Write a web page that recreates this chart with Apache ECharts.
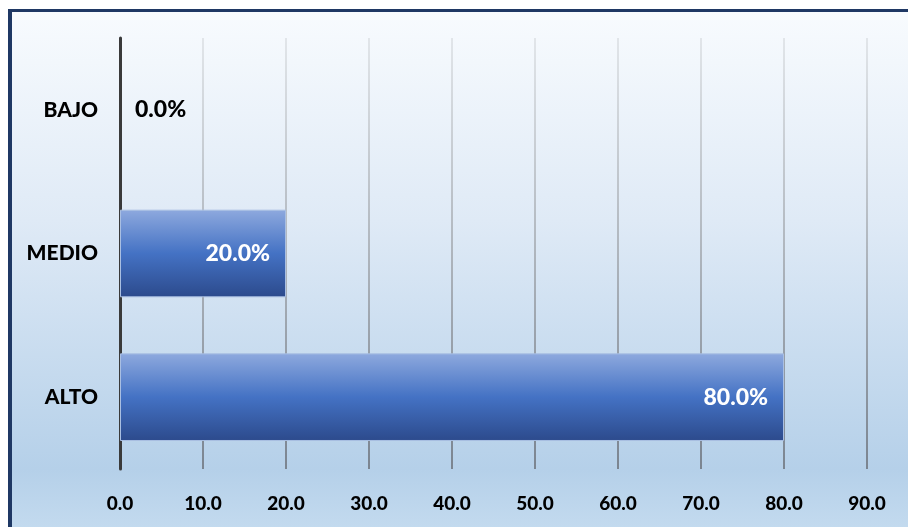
<!DOCTYPE html>
<html>
<head>
<meta charset="utf-8">
<script src="https://cdn.jsdelivr.net/npm/echarts@6/dist/echarts.min.js"></script>
<style>
  html, body { margin: 0; padding: 0; width: 908px; height: 527px; background: #fff; overflow: hidden; }
  #wrap {
    position: absolute; left: 8px; top: 9px; width: 904px; height: 520px;
    border-top: 3px solid #1f3864; border-left: 4px solid #1f3864;
    background: linear-gradient(to bottom, #f8fbfe 0%, #dfeaf6 40%, #b5d0e9 88%, #c4dbef 100%);
  }
  #chart { width: 904px; height: 520px; }
</style>
</head>
<body>
<div id="wrap"><div id="chart"></div></div>
<script>
const categories = ['ALTO', 'MEDIO', 'BAJO']
const values = [80.0, 20.0, 0.0]
const xTicks = { min: 0, max: 90, interval: 10 }

const chart = echarts.init(document.getElementById('chart'))
const font = 'Lato, "Open Sans", sans-serif'

const option = {
  animation: false,
  grid: { left: 108, right: 49, top: 26, bottom: 63 },
  xAxis: {
    type: 'value',
    min: xTicks.min,
    max: xTicks.max,
    interval: xTicks.interval,
    axisLine: { show: false },
    axisTick: { show: false },
    axisLabel: {
      margin: 25,
      color: '#000',
      fontWeight: 900,
      fontSize: 19,
      fontFamily: font,
      formatter: v => v.toFixed(1)
    },
    splitLine: {
      show: true,
      lineStyle: {
        width: 2,
        color: {
          type: 'linear', x: 0, y: 0, x2: 0, y2: 1,
          colorStops: [
            { offset: 0, color: '#e2e6ea' },
            { offset: 1, color: '#7a8490' }
          ]
        }
      }
    }
  },
  yAxis: {
    type: 'category',
    data: categories,
    axisLine: { show: true, lineStyle: { color: '#3a3a3a', width: 3 } },
    axisTick: { show: false },
    axisLabel: {
      margin: 22,
      color: '#000',
      fontWeight: 900,
      fontSize: 21,
      fontFamily: font
    }
  },
  series: [{
    type: 'bar',
    barWidth: '61%',
    data: values.map(v => ({
      value: v,
      itemStyle: v === 0 ? { borderWidth: 0, color: 'rgba(0,0,0,0)' } : {},
      label: v === 0
        ? { position: 'right', distance: 15, color: '#000' }
        : { position: 'insideRight', distance: 16, color: '#fff' }
    })),
    label: {
      show: true,
      fontWeight: 900,
      fontSize: 23,
      fontFamily: font,
      formatter: p => p.value.toFixed(1) + '%'
    },
    itemStyle: {
      borderColor: '#a9bfe2',
      borderWidth: 1,
      color: {
        type: 'linear', x: 0, y: 0, x2: 0, y2: 1,
        colorStops: [
          { offset: 0, color: '#8ea9de' },
          { offset: 0.5, color: '#4472c4' },
          { offset: 1, color: '#2c4a8c' }
        ]
      }
    }
  }]
}
chart.setOption(option)
</script>
</body>
</html>
